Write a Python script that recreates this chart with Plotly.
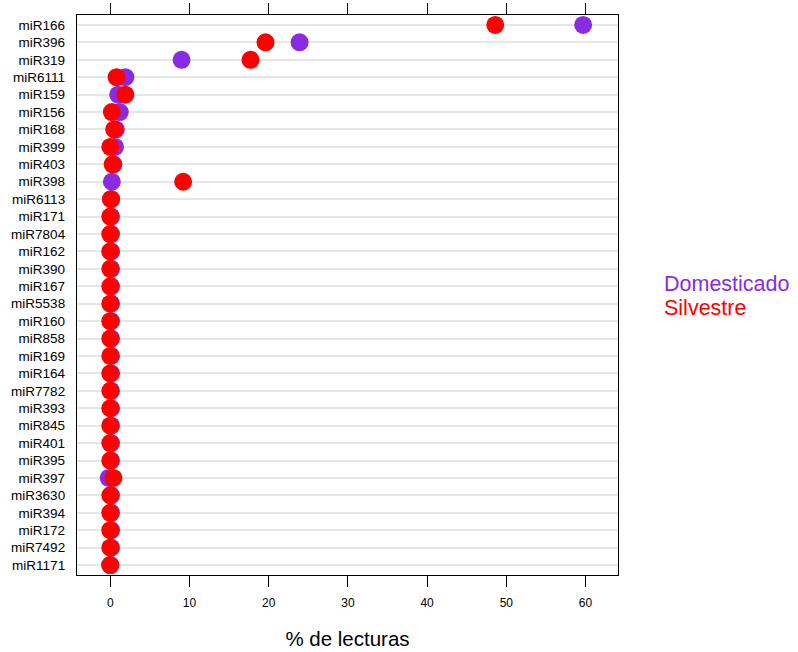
import plotly.graph_objects as go

mirnas = ["miR166", "miR396", "miR319", "miR6111", "miR159", "miR156", "miR168", "miR399",
          "miR403", "miR398", "miR6113", "miR171", "miR7804", "miR162", "miR390", "miR167",
          "miR5538", "miR160", "miR858", "miR169", "miR164", "miR7782", "miR393", "miR845",
          "miR401", "miR395", "miR397", "miR3630", "miR394", "miR172", "miR7492", "miR1171"]

domesticado = [59.7, 23.9, 9.0, 1.9, 1.0, 1.2, 0.7, 0.6,
               0.4, 0.2, 0.1, 0.1, 0.1, 0.1, 0.1, 0.1,
               0.1, 0.1, 0.1, 0.1, 0.1, 0.1, 0.1, 0.1,
               0.1, 0.1, -0.2, 0.1, 0.1, 0.1, 0.1, 0.0]

silvestre = [48.6, 19.6, 17.7, 0.8, 1.9, 0.2, 0.5, 0.0,
             0.3, 9.2, 0.1, 0.0, 0.0, 0.0, 0.0, 0.0,
             0.0, 0.0, 0.0, 0.0, 0.0, 0.0, 0.0, 0.0,
             0.0, 0.0, 0.4, 0.0, 0.0, 0.0, 0.0, 0.0]

x_ticks = [0, 10, 20, 30, 40, 50, 60]

PURPLE = "#8A2BE2"
RED = "#FF0000"
FONT = "Liberation Sans, Arial, sans-serif"

L, R, T, B = 77, 180, 15, 77
W, H = 798, 652

fig = go.Figure()
fig.add_trace(go.Scatter(x=domesticado, y=mirnas, mode="markers", name="Domesticado",
                         marker=dict(color=PURPLE, size=18, line=dict(width=0))))
fig.add_trace(go.Scatter(x=silvestre, y=mirnas, mode="markers", name="Silvestre",
                         marker=dict(color=RED, size=18, line=dict(width=0))))

fig.update_layout(
    width=W, height=H,
    margin=dict(l=L, r=R, t=T, b=B, autoexpand=False),
    paper_bgcolor="white", plot_bgcolor="white",
    showlegend=False,
    font=dict(family=FONT, color="black"),
    xaxis=dict(range=[-4.2, 64.1], tickvals=x_ticks, ticks="outside", ticklen=11,
               tickcolor="black", showline=True, linecolor="black", linewidth=1.3,
               mirror="ticks", showgrid=False, zeroline=False, automargin=False,
               tickfont=dict(size=12, family=FONT), ticklabelstandoff=5,
               title=dict(text="% de lecturas", font=dict(size=20.5, family=FONT), standoff=23)),
    yaxis=dict(categoryorder="array", categoryarray=mirnas, autorange=False,
               range=[31.57, -0.57], ticks="", showline=True, linecolor="black",
               linewidth=1.3, mirror=True, showgrid=True, gridcolor="#E6E6E6",
               gridwidth=1.5, zeroline=False, automargin=False,
               tickfont=dict(size=13.5, family=FONT), ticklabelstandoff=8),
)

pw = W - L - R
ph = H - T - B
for text, py, col in [("Domesticado", 284, PURPLE), ("Silvestre", 308, RED)]:
    fig.add_annotation(text=text, x=(663 - L) / pw, y=1 - (py - T) / ph,
                       xref="paper", yref="paper", showarrow=False,
                       font=dict(size=21.5, color=col, family=FONT),
                       xanchor="left", yanchor="middle", borderpad=0)

fig.write_html("out.html")
